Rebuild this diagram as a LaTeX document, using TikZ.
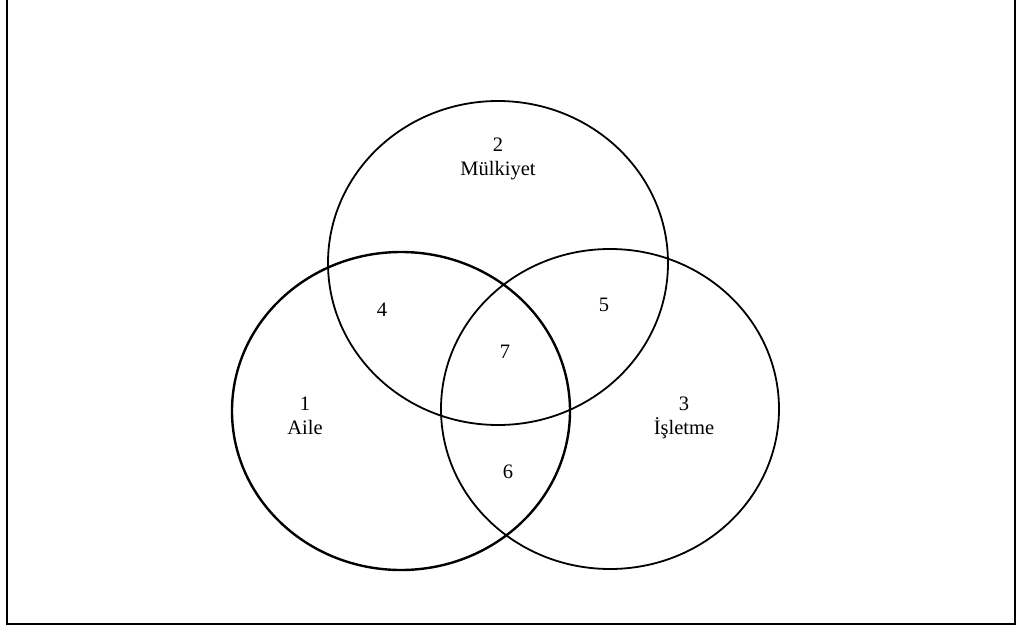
\documentclass[tikz,border=0pt]{standalone}
\usepackage{fontspec}
\setmainfont{Liberation Serif}
\begin{document}
\begin{tikzpicture}[x=1pt,y=-1pt,
  setline/.style={line width=1.8pt},
  lbl/.style={font=\fontsize{20.5}{23}\selectfont, align=center, inner sep=0pt}]
\useasboundingbox (0,0) rectangle (1018,629);
\draw[line width=2.6pt] (7,-3) -- (7,624) -- (1015,624) -- (1015,-3);
% sets
\draw[setline] (498,263) ellipse [x radius=170, y radius=162];
\draw[line width=2.4pt] (401,411) ellipse [x radius=169, y radius=159];
\draw[setline] (610,409) ellipse [x radius=169, y radius=160];
% labels
\node[lbl] (own) at (498,159) {2\\[1pt]Mülkiyet};
\node[lbl] (fam) at (305,416) {1\\[1pt]Aile};
\node[lbl] (biz) at (684,418) {3\\[1pt]İşletme};
\node[lbl] (r4) at (382,310) {4};
\node[lbl] (r5) at (604,305) {5};
\node[lbl] (r7) at (505,352) {7};
\node[lbl] (r6) at (508,472) {6};
\end{tikzpicture}
\end{document}
